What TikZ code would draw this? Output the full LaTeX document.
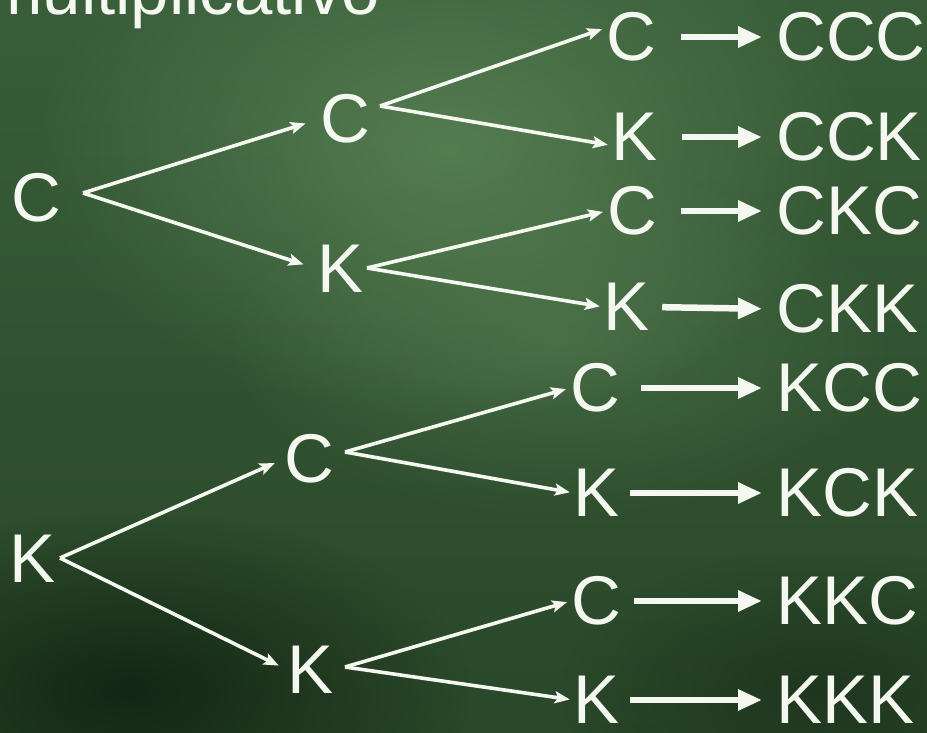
\documentclass[tikz,border=0pt]{standalone}
\usepackage{fontspec}
\setmainfont{Liberation Sans}
\usetikzlibrary{arrows.meta}
\usetikzlibrary{fadings}
\definecolor{board}{RGB}{52,88,52}
\definecolor{boardlight}{RGB}{98,140,94}
\definecolor{boarddark}{RGB}{16,32,16}
\definecolor{chalk}{RGB}{244,248,240}
\newcommand{\bigfont}{\fontsize{69}{72}\selectfont}
\tikzfading[name=glow,inner color=transparent!0,outer color=transparent!100]

\begin{document}
\begin{tikzpicture}[x=1pt,y=-1pt,
    lbl/.style={text=chalk,font=\bigfont,inner sep=0pt},
    br/.style={draw=chalk,line width=3.6pt,-{Stealth[length=15pt,width=12pt,inset=3pt]},shorten >=#1},
    res/.style={draw=chalk,line width=6.5pt,-{Triangle[length=24pt,width=20pt]},shorten >=14pt,shorten <=#1}]
        \useasboundingbox (0,0) rectangle (927,733);
        \clip (0,0) rectangle (927,733);
        % chalkboard
        \shade[top color=board!90!boardlight,bottom color=board!70!boarddark] (0,0) rectangle (927,733);
        \fill[boardlight,path fading=glow,opacity=.7] (450,150) ellipse (420 and 270);
        \fill[boardlight,path fading=glow,opacity=.4] (560,340) ellipse (340 and 180);
        \fill[boarddark,path fading=glow,opacity=.85] (130,690) ellipse (340 and 180);
        \fill[boarddark,path fading=glow,opacity=.45] (820,690) ellipse (260 and 140);
        \node[lbl,anchor=base west] (title) at (-15,15) {multiplicativo};
        % first choice
        \node[lbl] (vC) at (36,198) {C};
        \node[lbl] (vK) at (33,559) {K};
        % second choice
        \node[lbl] (vCC) at (345,119) {C};
        \node[lbl] (vCK) at (341,269) {K};
        \node[lbl] (vKC) at (309,459) {C};
        \node[lbl] (vKK) at (311,670) {K};
        % third choice
        \node[lbl] (vCCC) at (631,37) {C};
        \node[lbl] (vCCK) at (635,137) {K};
        \node[lbl] (vCKC) at (632,211) {C};
        \node[lbl] (vCKK) at (627,307) {K};
        \node[lbl] (vKCC) at (595,388) {C};
        \node[lbl] (vKCK) at (597,493) {K};
        \node[lbl] (vKKC) at (596,601) {C};
        \node[lbl] (vKKK) at (597,700) {K};
        % outcomes
        \node[lbl,anchor=west] (rCCC) at (776,37) {CCC};
        \node[lbl,anchor=west] (rCCK) at (776,137) {CCK};
        \node[lbl,anchor=west] (rCKC) at (776,211) {CKC};
        \node[lbl,anchor=west] (rCKK) at (776,309) {CKK};
        \node[lbl,anchor=west] (rKCC) at (776,388) {KCC};
        \node[lbl,anchor=west] (rKCK) at (776,493) {KCK};
        \node[lbl,anchor=west] (rKKC) at (776,601) {KKC};
        \node[lbl,anchor=west] (rKKK) at (776,700) {KKK};
        % forks
        \coordinate (fC) at (83,193);
        \coordinate (fK) at (60,558);
        \coordinate (fCC) at (380,106);
        \coordinate (fCK) at (367,268);
        \coordinate (fKC) at (345,452);
        \coordinate (fKK) at (345,667);
        \draw[br=15pt] (fC) -- (vCC.west);
        \draw[br=15pt] (fC) -- (vCK.west);
        \draw[br=10pt] (fK) -- (vKC.west);
        \draw[br=10pt] (fK) -- (vKK.west);
        \draw[br=4pt] (fCC) -- (vCCC.160);
        \draw[br=4pt] (fCC) -- (vCCK.200);
        \draw[br=4pt] (fCK) -- (vCKC.west);
        \draw[br=4pt] (fCK) -- (vCKK.west);
        \draw[br=4pt] (fKC) -- (vKCC.west);
        \draw[br=4pt] (fKC) -- (vKCK.west);
        \draw[br=4pt] (fKK) -- (vKKC.west);
        \draw[br=4pt] (fKK) -- (vKKK.west);
        \draw[res=25pt] (vCCC.east) -- (rCCC.west);
        \draw[res=24pt] (vCCK.east) -- (rCCK.west);
        \draw[res=24pt] (vCKC.east) -- (rCKC.west);
        \draw[res=12pt] (vCKK.east) -- (rCKK.west);
        \draw[res=21pt] (vKCC.east) -- (rKCC.west);
        \draw[res=10pt] (vKCK.east) -- (rKCK.west);
        \draw[res=13pt] (vKKC.east) -- (rKKC.west);
        \draw[res=10pt] (vKKK.east) -- (rKKK.west);
    \end{tikzpicture}
\end{document}
